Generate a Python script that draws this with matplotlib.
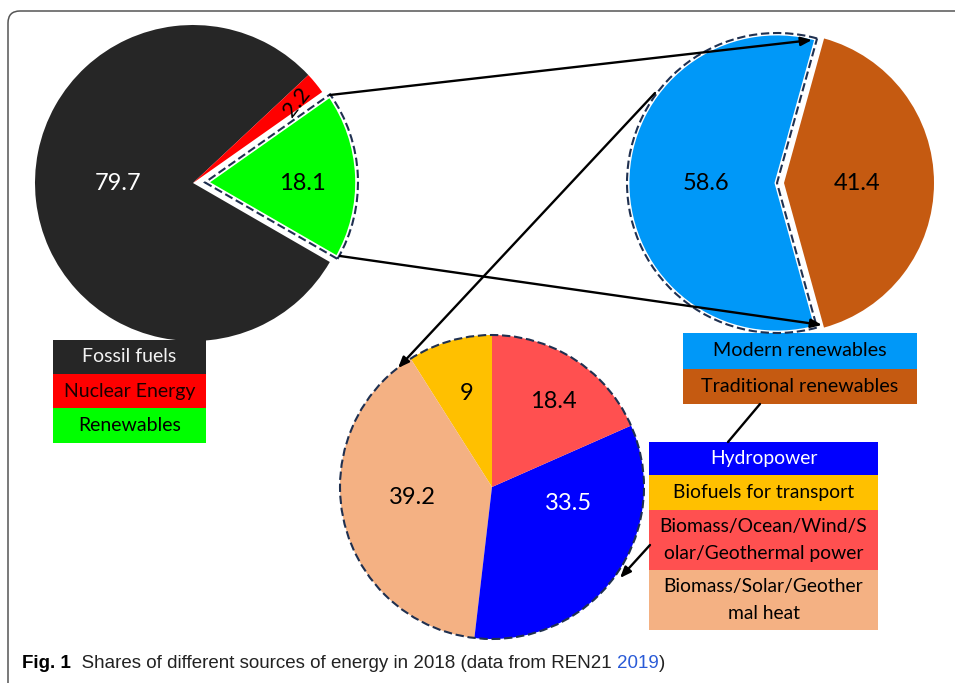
import matplotlib
matplotlib.use("Agg")
import matplotlib.pyplot as plt
from matplotlib.patches import Wedge, Circle, Rectangle, FancyBboxPatch

# ---- data -------------------------------------------------------------
energy_sources = ["Fossil fuels", "Nuclear Energy", "Renewables"]
energy_shares = [79.7, 2.2, 18.1]

renewable_types = ["Modern renewables", "Traditional renewables"]
renewable_shares = [58.6, 41.4]

modern_types = ["Hydropower", "Biofuels for transport",
                "Biomass/Ocean/Wind/S\nolar/Geothermal power",
                "Biomass/Solar/Geother\nmal heat"]
modern_shares = [33.5, 9, 18.4, 39.2]

caption_bold = "Fig. 1"
caption_text = "  Shares of different sources of energy in 2018 (data from REN21 "
caption_year = "2019"

# ---- style ------------------------------------------------------------
energy_colors = ["#262626", "#ff0000", "#00ff00"]
energy_text = ["#f2f2f2", "#1a0000", "#000000"]
renew_colors = ["#0098f8", "#c55a11"]
modern_colors = ["#0000ff", "#ffc000", "#ff5050", "#f4b183"]
modern_text = ["#ffffff", "#000000", "#000000", "#000000"]
navy = "#1f3050"
dash = (0, (4, 1.8))

W, H = 955, 683
plt.rcParams["font.family"] = ["Lato", "DejaVu Sans"]

fig = plt.figure(figsize=(W / 100, H / 100), dpi=100)
ax = fig.add_axes([0, 0, 1, 1])


def Y(y):
    return H - y


def fmt(v):
    return f"{v:g}"


# ---- frame ------------------------------------------------------------
frame = FancyBboxPatch((8, -60), 1200, Y(11) + 60,
                       boxstyle="round,pad=0,rounding_size=12",
                       fill=False, ec="#555555", lw=1.1, zorder=0)
ax.add_patch(frame)

# ---- pie 1: all energy sources ---------------------------------------
w1, _ = ax.pie(energy_shares, colors=energy_colors, startangle=-30,
               counterclock=False, center=(193, Y(183)), radius=158,
               explode=[0, 0, 12], frame=True,
               wedgeprops=dict(lw=0))
ren = w1[2]
ren.set_radius(153)
ren.set_edgecolor("white")
ren.set_linewidth(4)
ax.add_patch(Wedge(ren.center, 153, ren.theta1, ren.theta2, fill=False,
                   ec=navy, lw=1.5, ls=dash, zorder=3))

ax.text(118, Y(183), fmt(energy_shares[0]), color="white", fontsize=17,
        ha="center", va="center")
ax.text(297, Y(102), fmt(energy_shares[1]), color="black", fontsize=16,
        ha="center", va="center", rotation=52)
ax.text(302, Y(183), fmt(energy_shares[2]), color="black", fontsize=17,
        ha="center", va="center")

# ---- pie 2: renewables split -----------------------------------------
w2, _ = ax.pie(renewable_shares, colors=renew_colors, startangle=74.5,
               counterclock=True, center=(780.5, Y(183)), radius=150,
               explode=[3.5, 3.5], frame=True, wedgeprops=dict(lw=0))
mod = w2[0]
mod.set_edgecolor("white")
mod.set_linewidth(3.5)
ax.add_patch(Wedge(mod.center, 150, mod.theta1, mod.theta2, fill=False,
                   ec=navy, lw=1.5, ls=dash, zorder=3))
ax.text(706, Y(183), fmt(renewable_shares[0]), color="black", fontsize=17,
        ha="center", va="center")
ax.text(857, Y(183), fmt(renewable_shares[1]), color="black", fontsize=17,
        ha="center", va="center")

# ---- pie 3: modern renewables ----------------------------------------
order = [1, 3, 0, 2]  # biofuels, heat, hydro, power counter-clockwise from top
w3, _ = ax.pie([modern_shares[i] for i in order],
               colors=[modern_colors[i] for i in order],
               startangle=90, counterclock=True, center=(492, Y(487)),
               radius=152, frame=True, wedgeprops=dict(lw=0))
ax.add_patch(Circle((492, Y(487)), 152, fill=False, ec=navy, lw=1.5,
                    ls=dash, zorder=3))
label_pos3 = {0: (568, 503), 1: (467, 393), 2: (553, 401), 3: (412, 498)}
for i, (px, py) in label_pos3.items():
    ax.text(px, Y(py), fmt(modern_shares[i]), color=modern_text[i],
            fontsize=17, ha="center", va="center")


# ---- legend boxes ----------------------------------------------------
def legend_box(x0, y0, width, labels, colors, tcolors, heights, fs):
    y = y0
    for lab, c, tc, h in zip(labels, colors, tcolors, heights):
        ax.add_patch(Rectangle((x0, Y(y + h)), width, h, fc=c, ec="none",
                               zorder=2))
        ax.text(x0 + width / 2, Y(y + h / 2), lab, color=tc, fontsize=fs,
                ha="center", va="center", linespacing=1.75, zorder=4)
        y += h


legend_box(53, 340, 153, energy_sources, energy_colors, energy_text,
           [34, 34, 35], 14)
legend_box(683, 333, 234, renewable_types, renew_colors, ["black", "black"],
           [35.5, 35.5], 14.2)
legend_box(649, 442, 229, modern_types, modern_colors, modern_text,
           [33, 35, 60, 60], 13.9)


# ---- connectors ------------------------------------------------------
def arrow(p0, p1, head=True):
    style = "-|>,head_length=0.65,head_width=0.26" if head else "-"
    ax.annotate("", xy=(p1[0], Y(p1[1])), xytext=(p0[0], Y(p0[1])),
                arrowprops=dict(arrowstyle=style, color="black", lw=1.7,
                                shrinkA=0, shrinkB=0), zorder=5)


arrow((330, 95), (812, 40))
arrow((340, 256), (822, 325))
arrow((655, 93), (398, 368))
arrow((760, 404), (728, 442), head=False)
arrow((650, 545), (620, 578))

# ---- caption ---------------------------------------------------------
cap_font = ["Liberation Sans", "DejaVu Sans"]
cap_size = 13.5
t1 = ax.text(22, Y(663), caption_bold, fontsize=cap_size, fontweight="bold",
             family=cap_font, va="center", ha="left")
t2 = ax.annotate(caption_text, xy=(1, 0), xycoords=t1, va="bottom",
                 ha="left", fontsize=cap_size, family=cap_font,
                 color="#222222")
t3 = ax.annotate(caption_year, xy=(1, 0), xycoords=t2, va="bottom",
                 ha="left", fontsize=cap_size, family=cap_font,
                 color="#2a5bd7")
ax.annotate(")", xy=(1, 0), xycoords=t3, va="bottom", ha="left",
            fontsize=cap_size, family=cap_font, color="#222222")

ax.set_xlim(0, W)
ax.set_ylim(0, H)
ax.set_aspect("auto")
ax.axis("off")
fig.savefig("out.png", dpi=100)
